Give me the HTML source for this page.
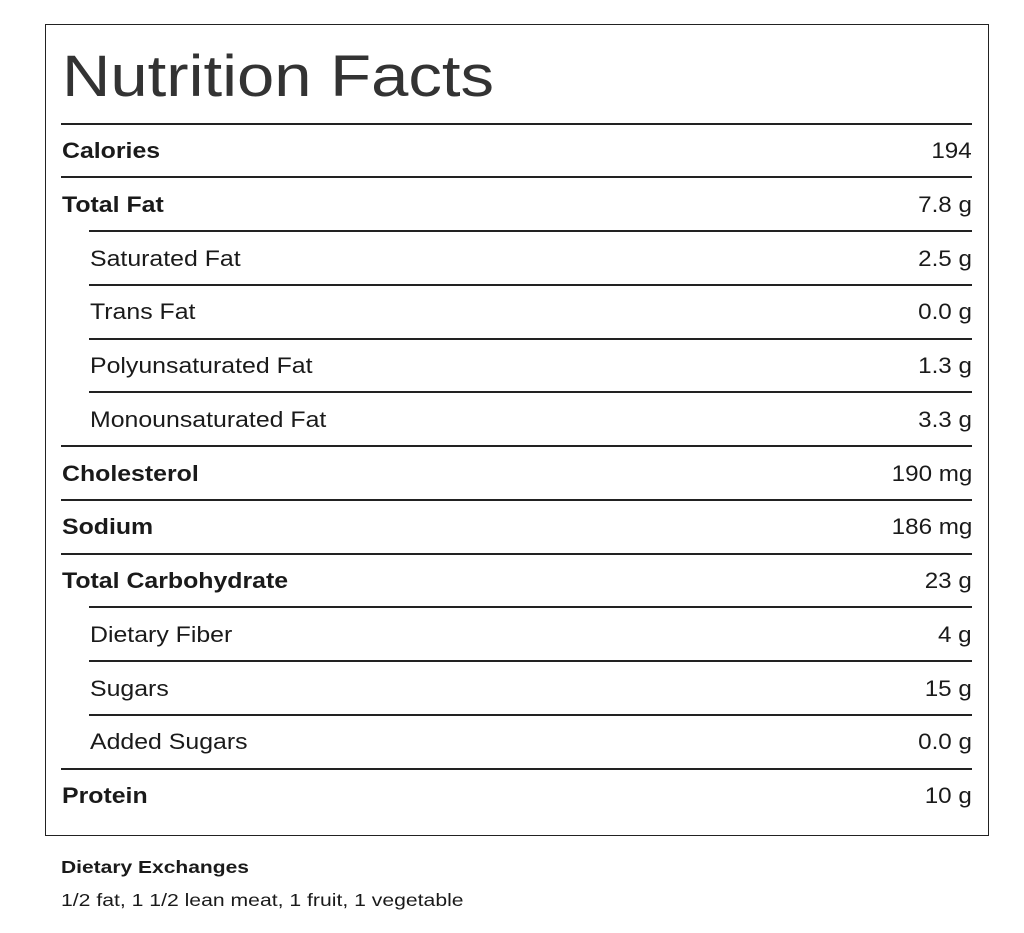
<!DOCTYPE html>
<html><head><style>
body{margin:0;width:1024px;height:933px;background:#fff;position:relative;font-family:"Liberation Sans",Arial,sans-serif;color:#1a1a1a;overflow:hidden}
.box{position:absolute;left:45px;top:24px;width:942px;height:810px;border:1.5px solid #222;box-sizing:content-box}
.t{position:absolute;font-size:22px;line-height:1;transform:scaleX(1.13);transform-origin:left center;white-space:nowrap}
.l{position:absolute;height:2px;background:#222;right:52px}
.r{position:absolute;right:52px;font-size:22px;line-height:1;transform:scaleX(1.1);transform-origin:right center;white-space:nowrap}
</style></head><body>
<div class="box"></div>
<svg style="position:absolute;left:0;top:0" width="1024" height="120"><text x="62" y="96" font-family="Liberation Sans, sans-serif" font-size="58" fill="#333" textLength="432" lengthAdjust="spacingAndGlyphs">Nutrition Facts</text></svg>
<div id="rows"></div>
<div style="position:absolute;left:61px;top:857px;font-size:17.5px;font-weight:bold;transform:scaleX(1.2);transform-origin:left center;white-space:nowrap">Dietary Exchanges</div>
<div style="position:absolute;left:61px;top:890px;font-size:17.5px;transform:scaleX(1.21);transform-origin:left center;white-space:nowrap">1/2 fat, 1 1/2 lean meat, 1 fruit, 1 vegetable</div>
<script>
var d=[["Calories","194",1],["Total Fat","7.8 g",1],["Saturated Fat","2.5 g",0],["Trans Fat","0.0 g",0],["Polyunsaturated Fat","1.3 g",0],["Monounsaturated Fat","3.3 g",0],["Cholesterol","190 mg",1],["Sodium","186 mg",1],["Total Carbohydrate","23 g",1],["Dietary Fiber","4 g",0],["Sugars","15 g",0],["Added Sugars","0.0 g",0],["Protein","10 g",1]];
var h="";
d.forEach(function(r,i){var y=123+53.75*i;var x=r[2]?61:89;
h+='<div class="l" style="left:'+x+'px;top:'+(y-0.5)+'px"></div>';
h+='<div class="t" style="left:'+(r[2]?62:90)+'px;top:'+(y+17)+'px;font-weight:'+(r[2]?'bold':'normal')+'">'+r[0]+'</div>';
h+='<div class="r" style="top:'+(y+17)+'px">'+r[1]+'</div>';});
document.getElementById("rows").innerHTML=h;
</script>
</body></html>
